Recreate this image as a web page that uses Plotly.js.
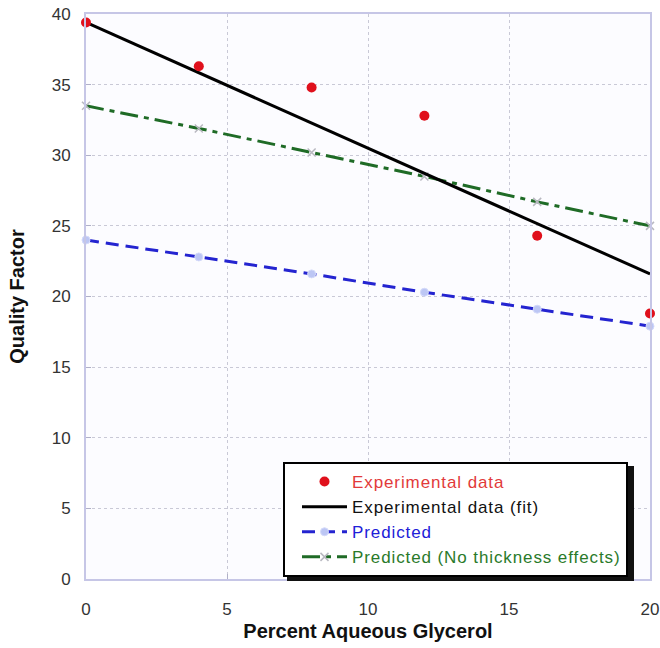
<!DOCTYPE html>
<html>
<head>
<meta charset="utf-8">
<script src="https://cdn.plot.ly/plotly-3.0.1.min.js"></script>
<style>html,body{margin:0;padding:0;background:#fff;}#chart{width:660px;height:648px;}</style>
</head>
<body>
<div id="chart"></div>
<script>
// Data
const glycerol = [0, 4, 8, 12, 16, 20];
const experimental = [39.4, 36.3, 34.8, 32.8, 24.3, 18.8];
const fitX = [0, 20];
const fitY = [39.4, 21.6];
const predicted = [24.0, 22.8, 21.6, 20.3, 19.1, 17.9];
const predictedNoThickness = [33.5, 31.9, 30.2, 28.5, 26.7, 25.0];

const xTicks = [0, 5, 10, 15, 20];
const yTicks = [0, 5, 10, 15, 20, 25, 30, 35, 40];

const ls = 'letter-spacing:0.9px;';
// drawn bottom to top; legend is reversed so it reads: data, fit, predicted, no-thickness
const traces = [
  {
    x: glycerol, y: predictedNoThickness, type: 'scatter', mode: 'lines+markers',
    name: '<span style="color:#2a7a2a;' + ls + '">Predicted (No thickness effects)</span>',
    line: {color: '#1f6b26', width: 3, dash: '18px,6px,5px,6px'},
    marker: {symbol: 'x-thin', size: 8, color: '#b8b8c0', line: {color: '#b8b8c0', width: 1.5}},
    cliponaxis: false
  },
  {
    x: glycerol, y: predicted, type: 'scatter', mode: 'lines+markers',
    name: '<span style="color:#2020d8;' + ls + '">Predicted</span>',
    line: {color: '#2424d0', width: 3, dash: '13px,7px'},
    marker: {symbol: 'circle', size: 8, color: '#bcc6f4', line: {color: '#d4dafa', width: 1}},
    cliponaxis: false
  },
  {
    x: fitX, y: fitY, type: 'scatter', mode: 'lines',
    name: '<span style="color:#111;' + ls + '">Experimental data (fit)</span>',
    line: {color: '#000000', width: 3},
    cliponaxis: false
  },
  {
    x: glycerol, y: experimental, type: 'scatter', mode: 'markers',
    name: '<span style="color:#e23a3a;' + ls + '">Experimental data</span>',
    marker: {symbol: 'circle', size: 10, color: '#e0101c'},
    cliponaxis: false
  }
];

const plotL = 86, plotR = 10, plotT = 14, plotB = 69;
const W = 660, H = 648;
const pw = W - plotL - plotR, ph = H - plotT - plotB;
// legend box in pixels (from reference)
const legL = 283, legT = 462, legRgt = 630, legBot = 577;
const px = v => (v - plotL) / pw;
const py = v => (H - plotB - v) / ph;

const layout = {
  width: W, height: H,
  margin: {l: plotL, r: plotR, t: plotT, b: plotB},
  paper_bgcolor: '#ffffff',
  plot_bgcolor: '#fcfcff',
  font: {family: 'Arial, "Liberation Sans", sans-serif', color: '#333333', size: 17},
  showlegend: true,
  legend: {
    x: px(legL), y: py(legT), xanchor: 'left', yanchor: 'top',
    bgcolor: '#ffffff', bordercolor: '#000000', borderwidth: 2,
    font: {size: 17, family: 'Arial, "Liberation Sans", sans-serif'},
    traceorder: 'reversed', itemwidth: 45, indentation: 12,
    tracegroupgap: 0
  },
  xaxis: {
    range: [0, 20], tickvals: xTicks, ticktext: xTicks.map(String),
    showgrid: true, gridcolor: '#c9c9d6', griddash: 'dot', gridwidth: 1,
    zeroline: false, showline: true, linecolor: '#c6c6e6', linewidth: 2, mirror: true,
    ticks: 'inside', ticklen: 5, tickcolor: '#b0b0c8',
    ticklabelstandoff: 14,
    tickfont: {size: 17, color: '#333333'},
    title: {text: '<b>Percent Aqueous Glycerol</b>', font: {size: 20, color: '#111111'}, standoff: 6}
  },
  yaxis: {
    range: [0, 40], tickvals: yTicks, ticktext: yTicks.map(String),
    showgrid: true, gridcolor: '#c9c9d6', griddash: 'dot', gridwidth: 1,
    zeroline: false, showline: true, linecolor: '#c6c6e6', linewidth: 2, mirror: true,
    ticks: 'inside', ticklen: 5, tickcolor: '#b0b0c8',
    ticklabelstandoff: 10,
    tickfont: {size: 17, color: '#333333'},
    title: {text: '<b>Quality Factor</b>', font: {size: 20, color: '#111111'}, standoff: 22}
  },
  shapes: [
    {type: 'rect', xref: 'paper', yref: 'paper', layer: 'above',
     x0: px(legL + 4), x1: px(legRgt + 4), y0: py(legBot + 4), y1: py(legT + 4),
     fillcolor: '#111111', line: {width: 0}}
  ]
};

Plotly.newPlot('chart', traces, layout, {displayModeBar: false, staticPlot: true});
</script>
</body>
</html>
